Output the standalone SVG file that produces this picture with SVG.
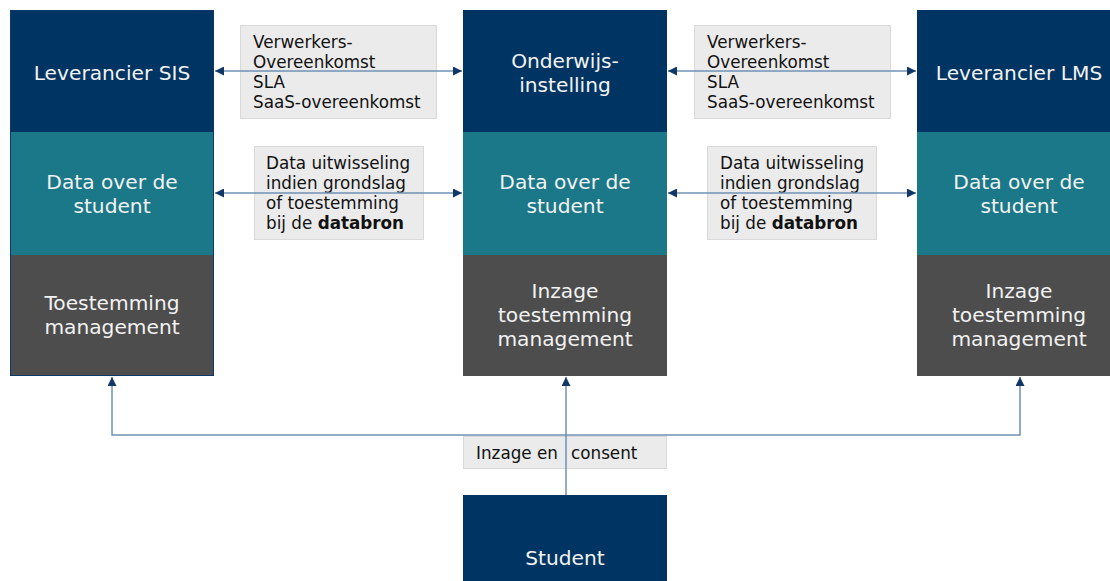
<svg xmlns="http://www.w3.org/2000/svg" width="1110" height="581" viewBox="0 0 1110 581">
<style>
.t{font-family:"DejaVu Sans",Verdana,sans-serif;font-size:20.2px;fill:#F2F2F2;text-anchor:middle}
.s{font-family:"DejaVu Sans",Verdana,sans-serif;font-size:16.8px;fill:#111}
.navy{fill:#003462}
.teal{fill:#1B7889}
.gray{fill:#4D4D4D}
.lbl{fill:#EBEBEB;stroke:#D9D9D9;stroke-width:1}
.ln{stroke:#6F90B4;stroke-width:1.5;fill:none}
</style>
<defs>
<marker id="ah" viewBox="0 0 10 10" refX="10" refY="5" markerWidth="9" markerHeight="9" markerUnits="userSpaceOnUse" orient="auto-start-reverse">
<path d="M0,0 L10,5 L0,10 z" fill="#0F3868"/>
</marker>
</defs>
<g id="sis">
<rect class="navy" x="10" y="10" width="204" height="122"/>
<rect class="teal" x="10" y="132" width="204" height="123"/>
<rect class="gray" x="10" y="255" width="204" height="121"/>
<rect x="10.5" y="10.5" width="203" height="365" fill="none" stroke="#0F3868" stroke-width="1"/>
<text class="t" x="112" y="80">Leverancier SIS</text>
<text class="t" x="112" y="189">Data over de</text>
<text class="t" x="112" y="213">student</text>
<text class="t" x="112" y="310">Toestemming</text>
<text class="t" x="112" y="334">management</text>
</g>
<g id="onderwijs">
<rect class="navy" x="463" y="10" width="204" height="122"/>
<rect class="teal" x="463" y="132" width="204" height="123"/>
<rect class="gray" x="463" y="255" width="204" height="121"/>
<text class="t" x="565" y="68">Onderwijs-</text>
<text class="t" x="565" y="92">instelling</text>
<text class="t" x="565" y="189">Data over de</text>
<text class="t" x="565" y="213">student</text>
<text class="t" x="565" y="298">Inzage</text>
<text class="t" x="565" y="322">toestemming</text>
<text class="t" x="565" y="346">management</text>
</g>
<g id="lms">
<rect class="navy" x="917" y="10" width="204" height="122"/>
<rect class="teal" x="917" y="132" width="204" height="123"/>
<rect class="gray" x="917" y="255" width="204" height="121"/>
<text class="t" x="1019" y="80">Leverancier LMS</text>
<text class="t" x="1019" y="189">Data over de</text>
<text class="t" x="1019" y="213">student</text>
<text class="t" x="1019" y="298">Inzage</text>
<text class="t" x="1019" y="322">toestemming</text>
<text class="t" x="1019" y="346">management</text>
</g>
<g id="student">
<rect class="navy" x="463" y="495" width="204" height="86"/>
<text class="t" x="565" y="565">Student</text>
</g>
<g id="labels">
<rect class="lbl" x="240.5" y="25.5" width="196" height="93"/>
<text class="s" x="253" y="48">Verwerkers-</text>
<text class="s" x="253" y="68">Overeenkomst</text>
<text class="s" x="253" y="88">SLA</text>
<text class="s" x="253" y="108">SaaS-overeenkomst</text>
<rect class="lbl" x="254.5" y="146.5" width="169" height="93"/>
<text class="s" x="266" y="169">Data uitwisseling</text>
<text class="s" x="266" y="189">indien grondslag</text>
<text class="s" x="266" y="209">of toestemming</text>
<text class="s" x="266" y="229">bij de <tspan font-weight="bold">databron</tspan></text>
<rect class="lbl" x="694.5" y="25.5" width="196" height="93"/>
<text class="s" x="707" y="48">Verwerkers-</text>
<text class="s" x="707" y="68">Overeenkomst</text>
<text class="s" x="707" y="88">SLA</text>
<text class="s" x="707" y="108">SaaS-overeenkomst</text>
<rect class="lbl" x="707.5" y="146.5" width="169" height="93"/>
<text class="s" x="720" y="169">Data uitwisseling</text>
<text class="s" x="720" y="189">indien grondslag</text>
<text class="s" x="720" y="209">of toestemming</text>
<text class="s" x="720" y="229">bij de <tspan font-weight="bold">databron</tspan></text>
<rect class="lbl" x="463.5" y="436.5" width="203" height="32"/>
<text class="s" x="476" y="459">Inzage en</text>
<text class="s" x="571" y="459">consent</text>
</g>
<g id="connectors">
<line class="ln" x1="215" y1="71" x2="462" y2="71" marker-start="url(#ah)" marker-end="url(#ah)"/>
<line class="ln" x1="215" y1="193" x2="462" y2="193" marker-start="url(#ah)" marker-end="url(#ah)"/>
<line class="ln" x1="668" y1="71" x2="916" y2="71" marker-start="url(#ah)" marker-end="url(#ah)"/>
<line class="ln" x1="668" y1="193" x2="916" y2="193" marker-start="url(#ah)" marker-end="url(#ah)"/>
<polyline class="ln" points="112,377 112,435 1020,435 1020,377" marker-start="url(#ah)" marker-end="url(#ah)"/>
<line class="ln" x1="566" y1="495" x2="566" y2="377" marker-end="url(#ah)" stroke="#4A6F98"/>
</g>
</svg>
